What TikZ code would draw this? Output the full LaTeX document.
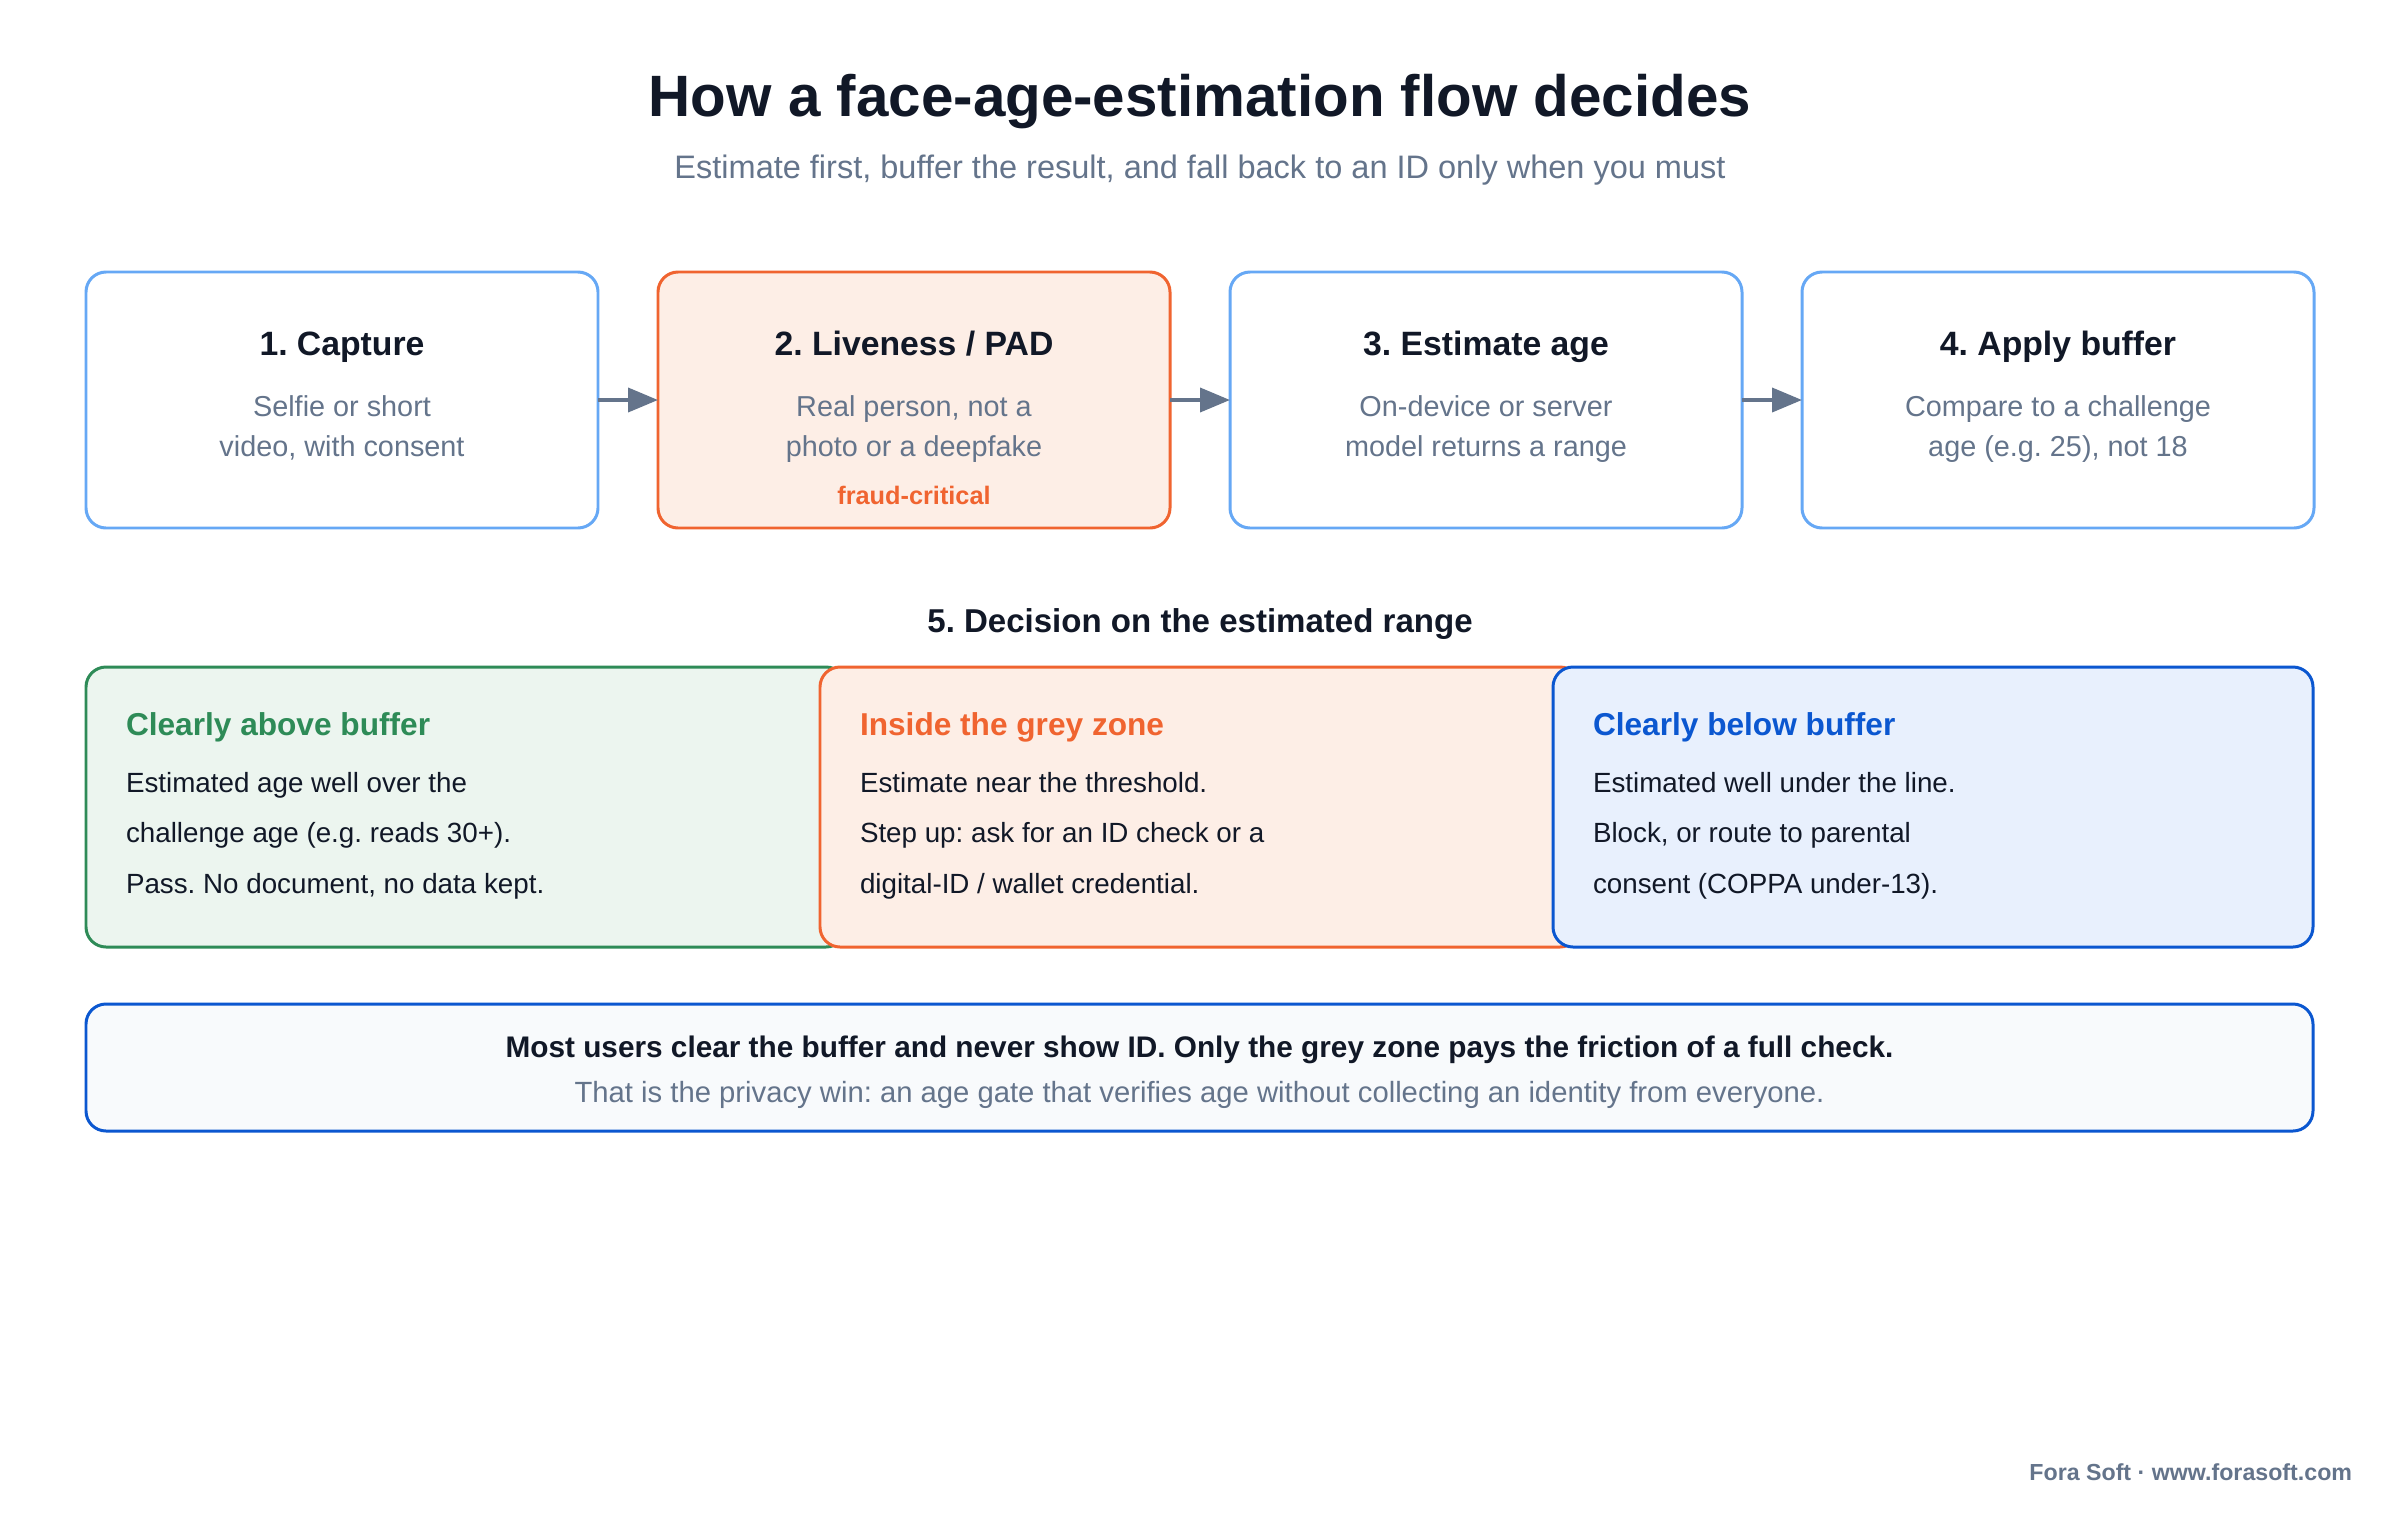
\documentclass[tikz,border=0pt]{standalone}
\usepackage{fontspec}
\setmainfont{Liberation Sans}
\usepackage{tikz}
\usetikzlibrary{positioning,arrows.meta,calc}
\frenchspacing

\definecolor{ink}{HTML}{111827}
\definecolor{slate}{HTML}{64748B}
\definecolor{skyline}{HTML}{66A8F5}
\definecolor{fraud}{HTML}{F06430}
\definecolor{fraudfill}{HTML}{FDEEE6}
\definecolor{pass}{HTML}{2E8B57}
\definecolor{passfill}{HTML}{ECF5EF}
\definecolor{block}{HTML}{0B57D0}
\definecolor{blockfill}{HTML}{E8F0FD}
\definecolor{notefill}{HTML}{F8FAFC}

\begin{document}
\frenchspacing
\begin{tikzpicture}[
    x=0.1mm, y=-0.1mm,
    >={Triangle[length=3mm,width=2.4mm]},
    every node/.style={inner sep=0pt, outer sep=0pt, text=ink},
    stage/.style={draw=skyline, fill=white, line width=0.85pt, rounded corners=2mm,
        minimum width=51.2mm, minimum height=25.6mm},
    stagetitle/.style={anchor=base, font=\fontsize{9.6pt}{11pt}\selectfont\bfseries},
    stagetext/.style={anchor=base, align=center, text=slate, font=\fontsize{8.2pt}{11.3pt}\selectfont},
    flow/.style={->, draw=slate, line width=1.1pt},
    zone/.style={line width=0.85pt, rounded corners=2mm, minimum width=76mm, minimum height=28mm},
    zonetitle/.style={anchor=base west, font=\fontsize{9pt}{10pt}\selectfont\bfseries},
    zonetext/.style={anchor=base west, align=left, font=\fontsize{7.9pt}{14.37pt}\selectfont}]

    \useasboundingbox[fill=white] (0,0) rectangle (2400,1520);

    % heading
    \node[anchor=base, font=\fontsize{16.6pt}{19pt}\selectfont\bfseries] (title) at (1200,117) {How a face-age-estimation flow decides};
    \node[anchor=base, text=slate, font=\fontsize{9.25pt}{11pt}\selectfont] (subtitle) at (1200,179) {Estimate first, buffer the result, and fall back to an ID only when you must};

    % the four steps
    \node[stage, anchor=north west] (capture) at (86,272) {};
    \node[stage, draw=fraud, fill=fraudfill, right=6mm of capture] (liveness) {};
    \node[stage, right=6mm of liveness] (estimate) {};
    \node[stage, right=6mm of estimate] (buffer) {};

    % multi-line texts sit on their last baseline
    \node[stagetitle] at ($(capture.north)+(0,83)$) {1. Capture};
    \node[stagetext] at ($(capture.north)+(0,184)$) {Selfie or short\\video, with consent};
    \node[stagetitle] at ($(liveness.north)+(0,83)$) {2. Liveness / PAD};
    \node[stagetext] at ($(liveness.north)+(0,184)$) {Real person, not a\\photo or a deepfake};
    \node[anchor=base, text=fraud, font=\fontsize{7.2pt}{8pt}\selectfont\bfseries] at ($(liveness.north)+(0,232)$) {fraud-critical};
    \node[stagetitle] at ($(estimate.north)+(0,83)$) {3. Estimate age};
    \node[stagetext] at ($(estimate.north)+(0,184)$) {On-device or server\\model returns a range};
    \node[stagetitle] at ($(buffer.north)+(0,83)$) {4. Apply buffer};
    \node[stagetext] at ($(buffer.north)+(0,184)$) {Compare to a challenge\\age (e.g. 25), not 18};

    \draw[flow] (capture) -- (liveness);
    \draw[flow] (liveness) -- (estimate);
    \draw[flow] (estimate) -- (buffer);

    % decision
    \node[anchor=base, font=\fontsize{9.4pt}{11pt}\selectfont\bfseries] (decision) at (1200,632) {5. Decision on the estimated range};

    \node[zone, draw=pass, fill=passfill, anchor=north west] (above) at (86,667) {};
    \node[zone, draw=fraud, fill=fraudfill, right=-2.6mm of above] (grey) {};
    \node[zone, draw=block, fill=blockfill, right=-2.7mm of grey] (below) {};

    \node[zonetitle, text=pass] at ($(above.north west)+(40,68)$) {Clearly above buffer};
    \node[zonetext] at ($(above.north west)+(40,226)$) {Estimated age well over the\\challenge age (e.g. reads 30+).\\Pass. No document, no data kept.};
    \node[zonetitle, text=fraud] at ($(grey.north west)+(40,68)$) {Inside the grey zone};
    \node[zonetext] at ($(grey.north west)+(40,226)$) {Estimate near the threshold.\\Step up: ask for an ID check or a\\digital-ID / wallet credential.};
    \node[zonetitle, text=block] at ($(below.north west)+(40,68)$) {Clearly below buffer};
    \node[zonetext] at ($(below.north west)+(40,226)$) {Estimated well under the line.\\Block, or route to parental\\consent (COPPA under-13).};

    % summary
    \node[draw=block, fill=notefill, line width=0.85pt, rounded corners=2mm, minimum width=222.7mm,
        minimum height=12.7mm, anchor=north west] (summary) at (86,1004) {};
    \node[anchor=base, font=\fontsize{8.47pt}{10pt}\selectfont\bfseries] at ($(summary.north)+(0,53)$) {Most users clear the buffer and never show ID. Only the grey zone pays the friction of a full check.};
    \node[anchor=base, text=slate, font=\fontsize{8.32pt}{10pt}\selectfont] at ($(summary.north)+(0,98)$) {That is the privacy win: an age gate that verifies age without collecting an identity from everyone.};

    \node[anchor=base east, text=slate, font=\fontsize{6.6pt}{7pt}\selectfont\bfseries] (footer) at (2352,1480) {Fora Soft · www.forasoft.com};

\end{tikzpicture}
\end{document}
